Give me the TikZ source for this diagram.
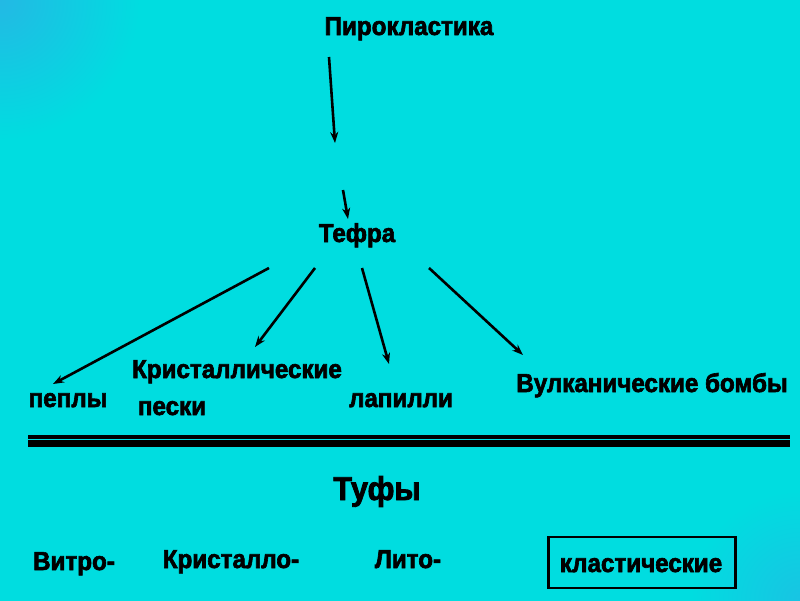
\documentclass[tikz,border=0pt]{standalone}
\usepackage{fontspec}
\setmainfont{Liberation Sans}[FakeBold=2.4,FakeStretch=0.93]
\usetikzlibrary{arrows.meta}
\definecolor{bgcyan}{RGB}{0,221,224}
\definecolor{bgblue}{RGB}{35,185,228}
\tikzset{
  lbl/.style={font=\bfseries\fontsize{26}{29}\selectfont, inner sep=0pt, anchor=base, text=black},
  big/.style={font=\bfseries\fontsize{33}{37}\selectfont, inner sep=0pt, anchor=base, text=black},
  arr/.style={draw=black, line width=2.6pt, -{Stealth[length=11pt,width=8pt]}},
}
\begin{document}
\begin{tikzpicture}[x=1pt,y=-1pt]
\useasboundingbox (0,0) rectangle (800,600);
\begin{scope}
\clip (-3,-3) rectangle (803,603);
\fill[bgcyan] (-3,-3) rectangle (803,603);
\shade[inner color=bgblue, outer color=bgcyan] (0,0) circle (140);
\shade[inner color=bgblue!70!bgcyan, outer color=bgcyan] (800,600) circle (110);
\end{scope}
% nodes
\node[lbl] (pyro) at (409,35) {Пирокластика};
\node[lbl] (tefra) at (357,242) {Тефра};
\node[lbl] (pepl) at (68,407) {пеплы};
\node[lbl] (krist) at (237,378) {Кристаллические};
\node[lbl] (peski) at (172,415) {пески};
\node[lbl] (lap) at (401,407) {лапилли};
\node[lbl] (bomb) at (652,392) {Вулканические бомбы};
\node[big] (tufy) at (377,500) {Туфы};
\node[lbl] (vitro) at (74,570) {Витро-};
\node[lbl] (kristallo) at (231,568) {Кристалло-};
\node[lbl] (lito) at (408,568) {Лито-};
\node[lbl] (klast) at (641,572) {кластические};
\node[draw=black, line width=2.2pt, inner sep=0pt, minimum width=187pt, minimum height=51pt] (klbox) at (642,562.5) {};
% arrow end points
\coordinate (a1s) at (329,57);
\coordinate (a1e) at (335,143);
\coordinate (a2s) at (343,190);
\coordinate (a2e) at (348,219);
\coordinate (t1) at (269,268);
\coordinate (t2) at (315,268);
\coordinate (t3) at (362,268);
\coordinate (t4) at (429,268);
\coordinate (e1) at (53,384);
\coordinate (e2) at (255,347);
\coordinate (e3) at (389,364);
\coordinate (e4) at (523,355);
\draw[arr] (a1s) -- (a1e);
\draw[arr] (a2s) -- (a2e);
\draw[arr] (t1) -- (e1);
\draw[arr] (t2) -- (e2);
\draw[arr] (t3) -- (e3);
\draw[arr] (t4) -- (e4);
% double line
\coordinate (l1a) at (28,436.5);
\coordinate (l1b) at (790,436.5);
\coordinate (l2a) at (28,443.5);
\coordinate (l2b) at (790,443.5);
\draw[line width=4pt] (l1a) -- (l1b);
\draw[line width=6.5pt] (l2a) -- (l2b);
\end{tikzpicture}
\end{document}
